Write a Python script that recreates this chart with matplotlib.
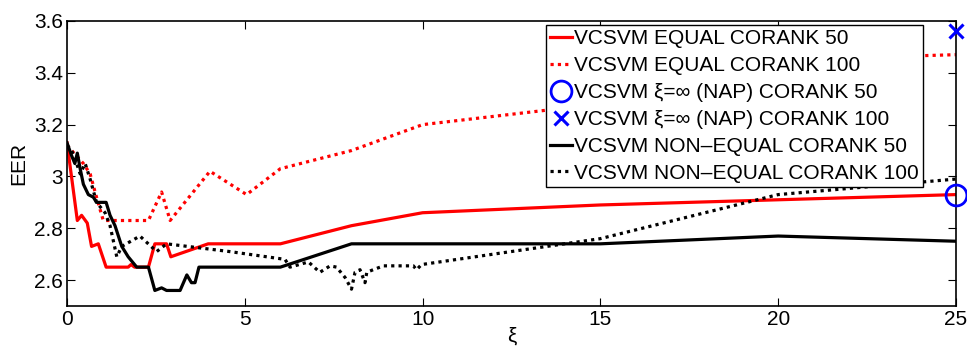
import matplotlib
matplotlib.use("Agg")
import matplotlib.pyplot as plt

plt.rcParams["font.family"] = ["Liberation Sans", "DejaVu Sans"]

# VCSVM EQUAL CORANK 50
eq50_x = [0, 0.29, 0.41, 0.57, 0.69, 0.88, 1.10, 1.72, 1.8, 1.9, 2.29, 2.47, 2.8, 2.92, 3.97, 6, 8, 10, 15, 20, 25]
eq50_y = [3.13, 2.83, 2.85, 2.82, 2.73, 2.74, 2.65, 2.65, 2.66, 2.65, 2.65, 2.74, 2.74, 2.69, 2.74, 2.74, 2.81, 2.86, 2.89, 2.91, 2.93]

# VCSVM EQUAL CORANK 100
eq100_x = [0, 0.46, 0.65, 0.83, 1.02, 2.29, 2.66, 2.9, 4.02, 5.05, 6, 8, 10, 15, 20, 25]
eq100_y = [3.12, 3.05, 3.01, 2.92, 2.83, 2.83, 2.94, 2.83, 3.02, 2.93, 3.03, 3.10, 3.20, 3.28, 3.45, 3.47]

# VCSVM xi=inf (NAP)
nap_x = [25]
nap50_y = [2.93]
nap100_y = [3.56]

# VCSVM NON-EQUAL CORANK 50
ne50_x = [0, 0.13, 0.22, 0.29, 0.37, 0.46, 0.6, 0.74, 0.83, 1.1, 1.21, 1.35, 1.54, 1.72, 1.96, 2.29,
          2.47, 2.66, 2.8, 3.18, 3.37, 3.5, 3.6, 3.71, 6, 8, 10, 15, 20, 25]
ne50_y = [3.13, 3.08, 3.05, 3.09, 3.03, 2.97, 2.93, 2.92, 2.90, 2.90, 2.85, 2.81, 2.73, 2.69, 2.65, 2.65,
          2.56, 2.57, 2.56, 2.56, 2.62, 2.59, 2.59, 2.65, 2.65, 2.74, 2.74, 2.74, 2.77, 2.75]

# VCSVM NON-EQUAL CORANK 100
ne100_x = [0, 0.13, 0.22, 0.37, 0.51, 0.65, 0.83, 1.07, 1.21, 1.4, 1.54, 2.05, 2.52, 2.8, 4.58, 6.13,
           6.27, 6.79, 7.11, 7.4, 7.58, 7.82, 8.0, 8.1, 8.24, 8.38, 8.43, 8.61, 8.9, 9.74, 9.83, 9.97,
           15, 20, 25]
ne100_y = [3.12, 3.10, 3.07, 3.01, 3.05, 2.99, 2.90, 2.86, 2.81, 2.69, 2.73, 2.77, 2.71, 2.74, 2.71, 2.68,
           2.65, 2.67, 2.63, 2.655, 2.65, 2.61, 2.565, 2.63, 2.64, 2.59, 2.63, 2.64, 2.655, 2.655, 2.64, 2.66,
           2.76, 2.93, 2.99]

xticks = [0, 5, 10, 15, 20, 25]
yticks = [2.6, 2.8, 3.0, 3.2, 3.4, 3.6]
ytick_labels = ["2.6", "2.8", "3", "3.2", "3.4", "3.6"]

dot = (0, (1.0, 1.3))
lw = 2.3
fs = 15

fig = plt.figure(figsize=(9.67, 3.5), dpi=100)
ax = fig.add_axes([0.0693, 0.1257, 0.9193, 0.8143])

ax.plot(eq50_x, eq50_y, color="red", lw=lw, label="VCSVM EQUAL CORANK 50")
ax.plot(eq100_x, eq100_y, color="red", lw=lw, linestyle=dot, label="VCSVM EQUAL CORANK 100")
ax.plot(nap_x, nap50_y, linestyle="none", marker="o", ms=15, mfc="none", mec="blue", mew=2,
        label="VCSVM ξ=∞ (NAP) CORANK 50", clip_on=False, zorder=5)
ax.plot(nap_x, nap100_y, linestyle="none", marker="x", ms=10, mec="blue", mew=2.2,
        label="VCSVM ξ=∞ (NAP) CORANK 100", clip_on=False, zorder=5)
ax.plot(ne50_x, ne50_y, color="black", lw=lw, label="VCSVM NON–EQUAL CORANK 50")
ax.plot(ne100_x, ne100_y, color="black", lw=lw, linestyle=dot, label="VCSVM NON–EQUAL CORANK 100")

ax.set_xlim(0, 25)
ax.set_ylim(2.5, 3.6)
ax.set_xticks(xticks)
ax.set_yticks(yticks)
ax.set_yticklabels(ytick_labels)
ax.tick_params(direction="in", length=6, width=0.8, top=True, right=True, labelsize=fs, pad=3)
for s in ax.spines.values():
    s.set_linewidth(1.2)

ax.set_xlabel("ξ", fontsize=fs, labelpad=-2)
ax.set_ylabel("EER", fontsize=fs, labelpad=4)

leg = ax.legend(loc="upper right", bbox_to_anchor=(0.963, 0.986), fontsize=fs, handlelength=1.05,
                handletextpad=0.1, labelspacing=0.38, borderpad=0.2, borderaxespad=0,
                fancybox=False, framealpha=1, edgecolor="black")
leg.get_frame().set_linewidth(1.0)

fig.savefig("out.png", dpi=100)
